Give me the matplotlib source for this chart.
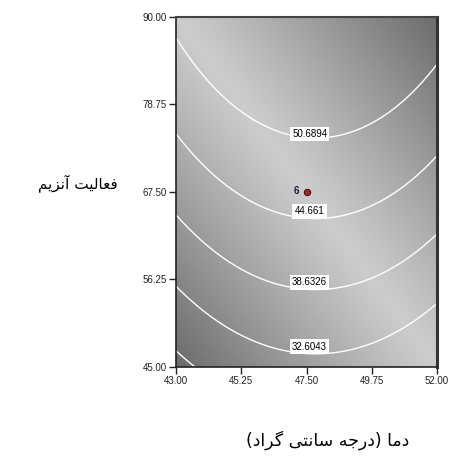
import numpy as np
import matplotlib
matplotlib.use('Agg')
import matplotlib.pyplot as plt

# temperature (C) on x, enzyme activity on y
x_range = [43.00, 52.00]
y_range = [45.00, 90.00]
x_ticks = [43.00, 45.25, 47.50, 49.75, 52.00]
y_ticks = [45.00, 56.25, 67.50, 78.75, 90.00]

# contour levels of the response, labelled ones shown with a value box
plain_levels = [26.5760]
label_levels = [32.6043, 38.6326, 44.6610, 50.6894]

# points lying on each contour (x, y, level) used to rebuild the surface
pts_x = [43.00, 47.50, 52.00, 45.25, 49.75,
         43.00, 47.50, 52.00,
         43.00, 47.50, 52.00,
         43.00, 47.50, 52.00,
         43.00, 43.72]
pts_y = [87.0, 73.9, 83.1, 78.4, 78.0,
         75.1, 63.6, 72.0,
         64.5, 54.9, 62.2,
         55.3, 46.5, 53.4,
         47.2, 45.0]
pts_r = [50.6894] * 5 + [44.6610] * 3 + [38.6326] * 3 + [32.6043] * 3 + [26.5760] * 2

# centre design point and its replicate count
center_x = 47.50
center_y = 67.50
center_n = '6'

y_title = 'فعالیت آنزیم'
x_title = 'دما (درجه سانتی گراد)'

# --- minimal arabic/persian shaping (matplotlib has no complex text layout)
# forms: isolated, final, initial, medial
FORMS = {
    'ا': ('\uFE8D', '\uFE8E', None, None),
    'آ': ('\uFE81', '\uFE82', None, None),
    'د': ('\uFEA9', '\uFEAA', None, None),
    'ر': ('\uFEAD', '\uFEAE', None, None),
    'ز': ('\uFEAF', '\uFEB0', None, None),
    'ت': ('\uFE95', '\uFE96', '\uFE97', '\uFE98'),
    'ج': ('\uFE9D', '\uFE9E', '\uFE9F', '\uFEA0'),
    'س': ('\uFEB1', '\uFEB2', '\uFEB3', '\uFEB4'),
    'ع': ('\uFEC9', '\uFECA', '\uFECB', '\uFECC'),
    'ف': ('\uFED1', '\uFED2', '\uFED3', '\uFED4'),
    'ل': ('\uFEDD', '\uFEDE', '\uFEDF', '\uFEE0'),
    'م': ('\uFEE1', '\uFEE2', '\uFEE3', '\uFEE4'),
    'ن': ('\uFEE5', '\uFEE6', '\uFEE7', '\uFEE8'),
    'ه': ('\uFEE9', '\uFEEA', '\uFEEB', '\uFEEC'),
    'ی': ('\uFEEF', '\uFEF0', '\uFEF3', '\uFEF4'),
    'گ': ('\uFB92', '\uFB93', '\uFB94', '\uFB95'),
}
MIRROR = {'(': ')', ')': '('}


def shape(text):
    out = []
    for i, ch in enumerate(text):
        if ch not in FORMS:
            out.append(MIRROR.get(ch, ch))
            continue
        prev = text[i - 1] if i > 0 else ''
        nxt = text[i + 1] if i + 1 < len(text) else ''
        joins_prev = prev in FORMS and FORMS[prev][2] is not None
        joins_next = nxt in FORMS and FORMS[ch][2] is not None
        iso, fin, ini, med = FORMS[ch]
        if joins_prev and joins_next:
            out.append(med)
        elif joins_prev:
            out.append(fin)
        elif joins_next:
            out.append(ini)
        else:
            out.append(iso)
    return ''.join(reversed(out))


# fit a full quadratic surface through the contour points
px = np.array(pts_x)
py = np.array(pts_y)
A = np.column_stack([np.ones_like(px), px, py, px ** 2, py ** 2, px * py])
coef, *_ = np.linalg.lstsq(A, np.array(pts_r), rcond=None)

gx = np.linspace(x_range[0], x_range[1], 300)
gy = np.linspace(y_range[0], y_range[1], 300)
X, Y = np.meshgrid(gx, gy)
R = (coef[0] + coef[1] * X + coef[2] * Y + coef[3] * X ** 2
     + coef[4] * Y ** 2 + coef[5] * X * Y)

# grey shading: light along the top-left / bottom-right diagonal
u = (X - x_range[0]) / (x_range[1] - x_range[0])
v = (Y - y_range[0]) / (y_range[1] - y_range[0])
d = np.abs(u + v - 1.0)
shade = 0.80 - 0.38 * d ** 1.1

fig = plt.figure(figsize=(4.54, 4.58), dpi=100)
ax = fig.add_axes([0.3877, 0.1987, 0.5749, 0.7642])

ax.imshow(shade, extent=[x_range[0], x_range[1], y_range[0], y_range[1]],
          origin='lower', cmap='gray', vmin=0, vmax=1, aspect='auto',
          interpolation='bilinear')

ax.contour(X, Y, R, levels=plain_levels, colors='white', linewidths=1.0)
cs = ax.contour(X, Y, R, levels=label_levels, colors='white', linewidths=1.0)
label_pos = [(47.6, 46.5), (47.6, 54.9), (47.6, 63.6), (47.6, 73.9)]
label_lift = [0.9, 0.9, 0.9, 0.5]
labels = ax.clabel(cs, inline=False, fontsize=7,
                   fmt=lambda v: f'{v:g}', manual=label_pos)
for t, lift in zip(labels, label_lift):
    t.set_rotation(0)
    t.set_color('black')
    t.set_family('Liberation Sans')
    t.set_bbox(dict(facecolor='white', edgecolor='none', pad=1.6))
    # boxes sit just above the line
    lx, ly = t.get_position()
    t.set_position((lx, ly + lift))

ax.plot([center_x], [center_y], 'o', ms=4.5, mfc='#b3261e', mec='#3a0d0d', mew=0.8)
ax.annotate(center_n, (center_x, center_y), xytext=(-5, 1), textcoords='offset points',
            ha='right', va='center', fontsize=7, fontweight='bold', color='#1a1a3a',
            family='Liberation Sans')

ax.set_xlim(x_range)
ax.set_ylim(y_range)
ax.set_xticks(x_ticks)
ax.set_yticks(y_ticks)
ax.set_xticklabels([f'{t:.2f}' for t in x_ticks])
ax.set_yticklabels([f'{t:.2f}' for t in y_ticks])
ax.tick_params(direction='out', length=5, width=1, labelsize=7, pad=1.5,
               colors='#222222')
for lab in ax.get_xticklabels() + ax.get_yticklabels():
    lab.set_family('Liberation Sans')

for side in ['left', 'bottom']:
    ax.spines[side].set_linewidth(1.2)
    ax.spines[side].set_color('#222222')
ax.spines['top'].set_linewidth(1.5)
ax.spines['top'].set_color('#444444')
ax.spines['right'].set_linewidth(2.2)
ax.spines['right'].set_color('#333333')

fig.text(0.172, 0.600, shape(y_title), ha='center', va='center', fontsize=11,
         family='DejaVu Sans', color='black')
fig.text(0.722, 0.039, shape(x_title), ha='center', va='center', fontsize=12.5,
         family='DejaVu Sans', color='black')

fig.savefig('out.png', dpi=100)
